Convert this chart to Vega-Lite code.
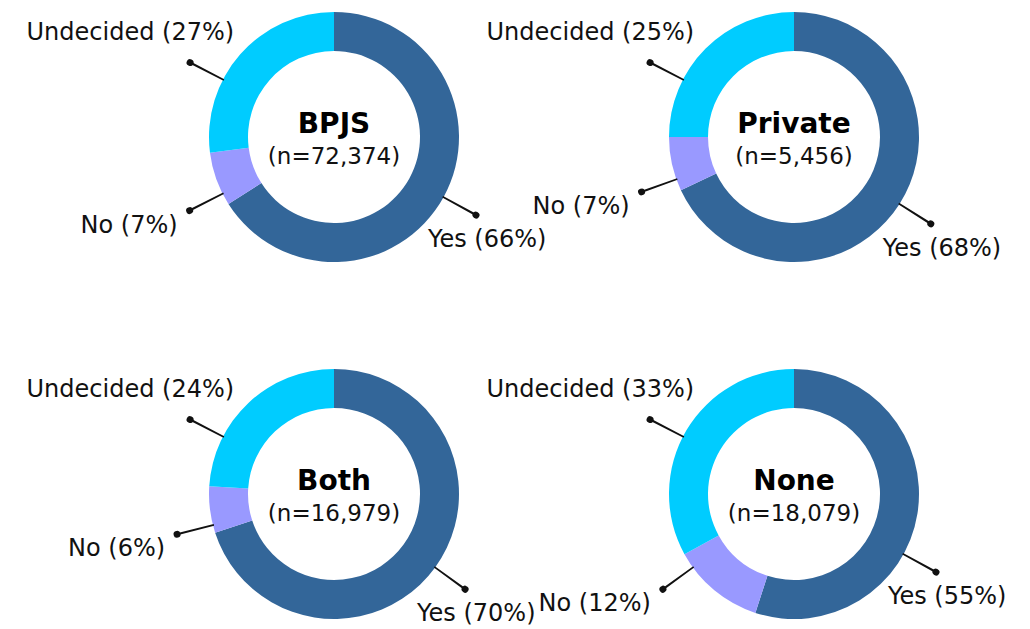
{
  "$schema": "https://vega.github.io/schema/vega-lite/v6.json",
  "autosize": {"type": "pad"},
  "padding": {"left": 26, "top": 7, "right": 0, "bottom": 0},
  "background": "white",
  "data": {"values": [
    {"group": "BPJS", "answer": "Yes", "pct": 66, "n": 72374},
    {"group": "BPJS", "answer": "No", "pct": 7, "n": 72374},
    {"group": "BPJS", "answer": "Undecided", "pct": 27, "n": 72374},
    {"group": "Private", "answer": "Yes", "pct": 68, "n": 5456},
    {"group": "Private", "answer": "No", "pct": 7, "n": 5456},
    {"group": "Private", "answer": "Undecided", "pct": 25, "n": 5456},
    {"group": "Both", "answer": "Yes", "pct": 70, "n": 16979},
    {"group": "Both", "answer": "No", "pct": 6, "n": 16979},
    {"group": "Both", "answer": "Undecided", "pct": 24, "n": 16979},
    {"group": "None", "answer": "Yes", "pct": 55, "n": 18079},
    {"group": "None", "answer": "No", "pct": 12, "n": 18079},
    {"group": "None", "answer": "Undecided", "pct": 33, "n": 18079}
  ]},
  "transform": [
    {"calculate": "indexof(['Yes','No','Undecided'], datum.answer)", "as": "k"},
    {"calculate": "indexof(['BPJS','Private','Both','None'], datum.group)", "as": "gi"},
    {"calculate": "floor(datum.gi / 2)", "as": "prow"},
    {"calculate": "datum.gi % 2", "as": "pcol"},
    {"window": [{"op": "sum", "field": "pct", "as": "cum"}], "groupby": ["group"], "sort": [{"field": "k"}], "frame": [null, 0]},
    {"calculate": "datum.cum - datum.pct", "as": "start"},
    {"calculate": "datum.cum - datum.pct / 2", "as": "mid"},
    {"calculate": "datum.answer == 'Yes' ? max(datum.mid, 33) : datum.answer == 'Undecided' ? min(datum.mid, 82.6) : max(datum.mid - 2, 65)", "as": "lab"},
    {"calculate": "datum.lab - 0.11", "as": "l0"},
    {"calculate": "datum.lab + 0.11", "as": "l1"},
    {"calculate": "datum.lab - 0.33", "as": "d0"},
    {"calculate": "datum.lab + 0.33", "as": "d1"},
    {"calculate": "datum.answer + ' (' + datum.pct + '%)'", "as": "label"},
    {"calculate": "'(n=' + format(datum.n, ',') + ')'", "as": "nlabel"}
  ],
  "facet": {
    "row": {"field": "prow", "type": "ordinal", "title": null, "header": {"labels": false, "title": null}},
    "column": {"field": "pcol", "type": "ordinal", "title": null, "header": {"labels": false, "title": null}}
  },
  "spacing": {"row": 97, "column": 60},
  "bounds": "flush",
  "spec": {
    "width": 400,
    "height": 260,
    "layer": [
      {
        "mark": {"type": "arc", "innerRadius": 86, "outerRadius": 125},
        "encoding": {
          "theta": {"field": "start", "type": "quantitative", "scale": {"domain": [0, 100]}},
          "theta2": {"field": "cum"},
          "color": {"field": "answer", "type": "nominal", "scale": {"domain": ["Yes", "No", "Undecided"], "range": ["#336699", "#9999ff", "#00ccff"]}, "legend": null}
        }
      },
      {
        "mark": {"type": "arc", "innerRadius": 124, "outerRadius": 161, "color": "#111111"},
        "encoding": {
          "theta": {"field": "l0", "type": "quantitative", "scale": {"domain": [0, 100]}},
          "theta2": {"field": "l1"}
        }
      },
      {
        "mark": {"type": "arc", "innerRadius": 158.5, "outerRadius": 165.5, "cornerRadius": 3.5, "color": "#111111"},
        "encoding": {
          "theta": {"field": "d0", "type": "quantitative", "scale": {"domain": [0, 100]}},
          "theta2": {"field": "d1"}
        }
      },
      {
        "transform": [{"filter": "datum.answer == 'Undecided'"}],
        "mark": {"type": "text", "radius": 162, "align": "right", "baseline": "middle", "dx": 44, "dy": -30, "fontSize": 24, "color": "#111111"},
        "encoding": {
          "theta": {"field": "lab", "type": "quantitative", "stack": false, "scale": {"domain": [0, 100]}},
          "text": {"field": "label"}
        }
      },
      {
        "transform": [{"filter": "datum.answer == 'Yes'"}],
        "mark": {"type": "text", "radius": 162, "align": "left", "baseline": "middle", "dx": -48, "dy": 25, "fontSize": 24, "color": "#111111"},
        "encoding": {
          "theta": {"field": "lab", "type": "quantitative", "stack": false, "scale": {"domain": [0, 100]}},
          "text": {"field": "label"}
        }
      },
      {
        "transform": [{"filter": "datum.answer == 'No'"}],
        "mark": {"type": "text", "radius": 162, "align": "right", "baseline": "middle", "dx": -12, "dy": 15, "fontSize": 24, "color": "#111111"},
        "encoding": {
          "theta": {"field": "lab", "type": "quantitative", "stack": false, "scale": {"domain": [0, 100]}},
          "text": {"field": "label"}
        }
      },
      {
        "transform": [{"filter": "datum.answer == 'Yes'"}],
        "mark": {"type": "text", "align": "center", "baseline": "middle", "dy": -12, "fontSize": 28, "fontWeight": "bold", "color": "#000000"},
        "encoding": {"text": {"field": "group"}}
      },
      {
        "transform": [{"filter": "datum.answer == 'Yes'"}],
        "mark": {"type": "text", "align": "center", "baseline": "middle", "dy": 20, "fontSize": 23, "color": "#111111"},
        "encoding": {"text": {"field": "nlabel"}}
      }
    ]
  },
  "config": {"view": {"stroke": null}, "font": "DejaVu Sans"}
}
